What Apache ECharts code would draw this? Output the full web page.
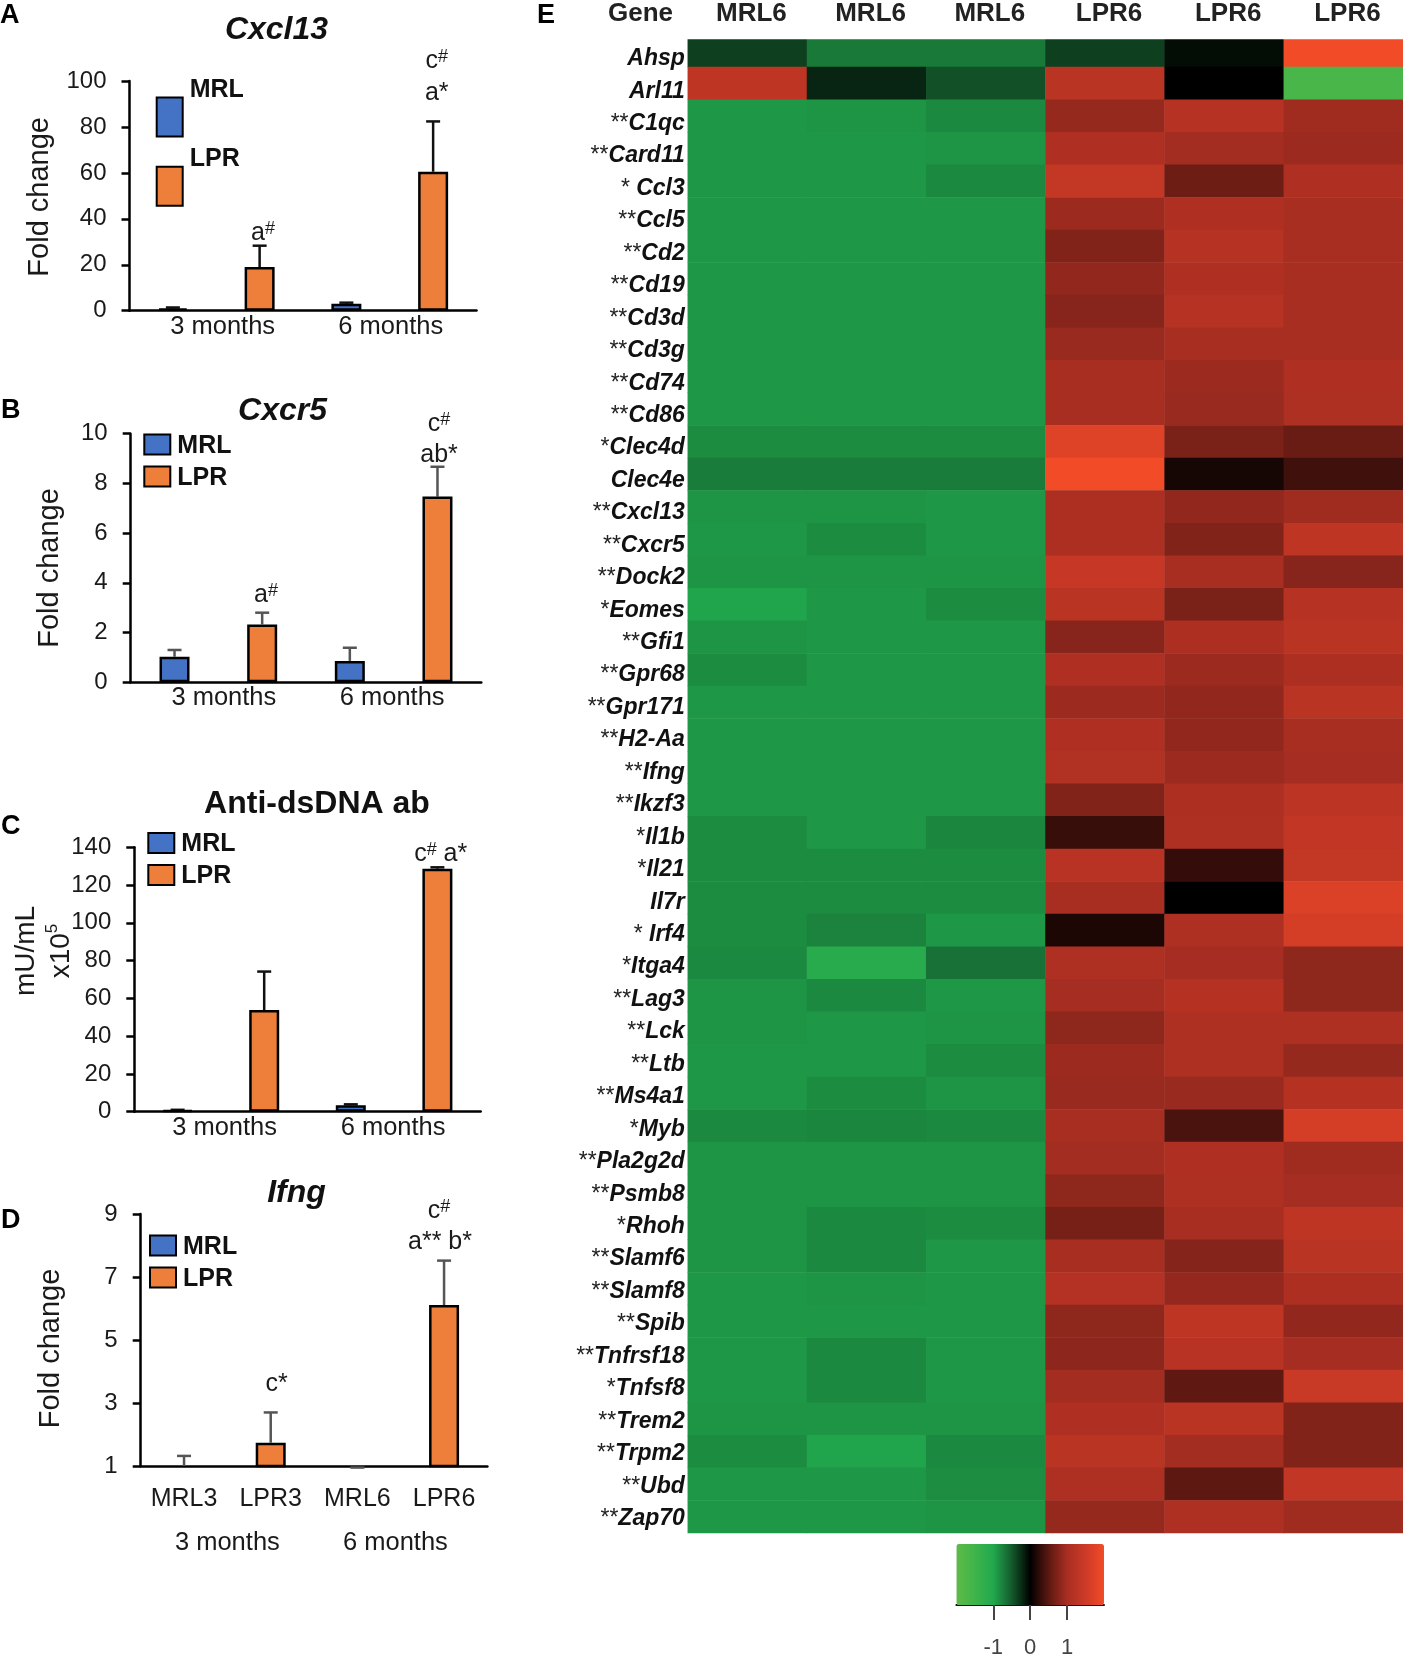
<!DOCTYPE html>
<html>
<head>
<meta charset="utf-8">
<title>Fold change and gene heatmap</title>
<script src="https://cdn.jsdelivr.net/npm/echarts@6/dist/echarts.min.js"></script>
<style>
  html, body { margin: 0; padding: 0; background: #fff; }
  #main { width: 1403px; height: 1662px; }
</style>
</head>
<body>
<div id="main"></div>
<script>
// bar panels, order is MRL3, LPR3, MRL6, LPR6
var barCats = ['MRL3', 'LPR3', 'MRL6', 'LPR6'];
var monthCats = ['3 months', '6 months'];

var cxcl13Mean = [1, 19, 3, 60.5];
var cxcl13Upper = [1.4, 28.3, 3.5, 82.4];
var cxcr5Mean = [1.03, 2.33, 0.86, 7.47];
var cxcr5Upper = [1.3, 2.8, 1.39, 8.67];
var dsdnaMean = [0.7, 53.8, 3.4, 128.7];
var dsdnaUpper = [1, 74.2, 3.9, 129.4];
var ifngMean = [1, 1.74, 0.95, 6.11];
var ifngUpper = [1.32, 2.7, 0.95, 7.52];

var ifngTicks = [1, 3, 5, 7, 9];

// heatmap, one array per sample column
var sampleCols = ['MRL6', 'MRL6', 'MRL6', 'LPR6', 'LPR6', 'LPR6'];
var genes = ['Ahsp', 'Arl11', '**C1qc', '**Card11', '* Ccl3', '**Ccl5', '**Cd2', '**Cd19', '**Cd3d', '**Cd3g',
  '**Cd74', '**Cd86', '*Clec4d', 'Clec4e', '**Cxcl13', '**Cxcr5', '**Dock2', '*Eomes', '**Gfi1', '**Gpr68',
  '**Gpr171', '**H2-Aa', '**Ifng', '**Ikzf3', '*Il1b', '*Il21', 'Il7r', '* Irf4', '*Itga4', '**Lag3',
  '**Lck', '**Ltb', '**Ms4a1', '*Myb', '**Pla2g2d', '**Psmb8', '*Rhoh', '**Slamf6', '**Slamf8', '**Spib',
  '**Tnfrsf18', '*Tnfsf8', '**Trem2', '**Trpm2', '**Ubd', '**Zap70'];
var mrlA = [-0.35, 1.3, -0.9, -0.9, -0.9, -0.9, -0.9, -0.9, -0.9, -0.9,
  -0.9, -0.9, -0.82, -0.72, -0.88, -0.9, -0.88, -0.98, -0.88, -0.82,
  -0.9, -0.9, -0.9, -0.9, -0.82, -0.82, -0.82, -0.82, -0.8, -0.88,
  -0.88, -0.9, -0.9, -0.8, -0.88, -0.88, -0.88, -0.88, -0.9, -0.9,
  -0.9, -0.9, -0.88, -0.82, -0.9, -0.9];
var mrlB = [-0.7, -0.2, -0.88, -0.9, -0.9, -0.9, -0.9, -0.9, -0.9, -0.9,
  -0.9, -0.9, -0.82, -0.72, -0.88, -0.82, -0.88, -0.9, -0.9, -0.9,
  -0.9, -0.9, -0.9, -0.9, -0.9, -0.82, -0.82, -0.76, -1.12, -0.8,
  -0.9, -0.9, -0.82, -0.78, -0.88, -0.88, -0.8, -0.8, -0.88, -0.9,
  -0.8, -0.8, -0.88, -0.98, -0.9, -0.9];
var mrlC = [-0.7, -0.45, -0.8, -0.88, -0.8, -0.9, -0.9, -0.9, -0.9, -0.9,
  -0.9, -0.9, -0.82, -0.72, -0.9, -0.9, -0.88, -0.82, -0.9, -0.9,
  -0.9, -0.9, -0.9, -0.9, -0.78, -0.82, -0.82, -0.9, -0.65, -0.9,
  -0.88, -0.82, -0.88, -0.8, -0.88, -0.88, -0.82, -0.9, -0.9, -0.9,
  -0.9, -0.9, -0.88, -0.8, -0.83, -0.88];
var lprA = [-0.35, 1.25, 0.88, 1.1, 1.38, 0.92, 0.75, 0.85, 0.78, 0.9,
  1, 1, 1.75, 2, 1.05, 1.05, 1.42, 1.25, 0.78, 1.1,
  0.92, 1.1, 1.12, 0.75, 0.3, 1.22, 1.02, 0.15, 1.08, 0.98,
  0.83, 0.92, 0.9, 1, 0.97, 0.83, 0.68, 1, 1.15, 0.83,
  0.82, 0.97, 1.1, 1.25, 1.08, 0.88];
var lprB = [-0.07, 0, 1.2, 0.97, 0.62, 1.1, 1.2, 1.1, 1.2, 1,
  0.92, 0.9, 0.7, 0.12, 0.85, 0.75, 1, 0.7, 1.05, 0.92,
  0.85, 0.85, 0.92, 1.05, 1.08, 0.28, 0, 1.08, 0.98, 1.18,
  1.07, 1.07, 0.9, 0.4, 1.1, 1.08, 1.02, 0.77, 0.87, 1.3,
  1.22, 0.52, 1.25, 0.97, 0.5, 1.08];
var lprC = [2, -1.65, 0.95, 0.92, 1.1, 1, 1, 1, 1, 1,
  1.1, 1.08, 0.58, 0.35, 0.95, 1.3, 0.78, 1.2, 1.25, 1.05,
  1.25, 1.02, 0.98, 1.28, 1.35, 1.38, 1.7, 1.6, 0.83, 0.83,
  1.08, 0.88, 1.18, 1.6, 0.95, 0.98, 1.3, 1.25, 1.05, 0.85,
  0.98, 1.45, 0.75, 0.75, 1.35, 0.95];
var heatColumns = [mrlA, mrlB, mrlC, lprA, lprB, lprC];
var scaleColors = ['#5dbb47', '#3fb44a', '#21a84d', '#145a2c', '#000000', '#5c1811', '#a82e22', '#cc3a26', '#f24b27'];
var scaleTicks = [-1, 0, 1];

var FONT = '"Liberation Sans", Arial, sans-serif';
var INK = '#1a1a1a';
var BLUE = '#4472c4';
var ORANGE = '#ed7f3a';

var chart = echarts.init(document.getElementById('main'), null, { renderer: 'canvas' });

var grids = [];
var xAxes = [];
var yAxes = [];
var series = [];
var titles = [];
var legends = [];

function errorRender(color) {
  return function (params, api) {
    var low = api.coord([api.value(0), api.value(1)]);
    var high = api.coord([api.value(0), api.value(2)]);
    var style = { stroke: color, lineWidth: 2.5 };
    return {
      type: 'group',
      children: [
        { type: 'line', shape: { x1: low[0], y1: low[1], x2: high[0], y2: high[1] }, style: style },
        { type: 'line', shape: { x1: high[0] - 7, y1: high[1], x2: high[0] + 7, y2: high[1] }, style: style }
      ]
    };
  };
}

// month labels do not sit exactly on the band centres, nudge is in pixels
function monthItems(nudge) {
  return monthCats.map(function (m, i) {
    var n = nudge[i];
    return { value: m, textStyle: { padding: n > 0 ? [0, 0, 0, n * 2] : [0, -n * 2, 0, 0] } };
  });
}

function addPanel(p) {
  var i = grids.length;
  grids.push({ left: p.left, top: p.top, width: p.width, height: p.height });
  var line = { onZero: false, lineStyle: { color: '#000', width: 2.5 } };
  xAxes.push({
    gridIndex: i, type: 'category', position: 'bottom', data: barCats,
    axisLine: line, axisTick: { show: false },
    axisLabel: { show: !!p.showCats, margin: 21, fontFamily: FONT, fontSize: 25, color: INK, interval: 0 }
  });
  xAxes.push({
    gridIndex: i, type: 'category', position: 'bottom', data: monthItems(p.monthNudge),
    axisLine: { show: false }, axisTick: { show: false },
    axisLabel: { margin: p.monthMargin, fontFamily: FONT, fontSize: 25.5, color: INK, interval: 0 }
  });
  var y = {
    gridIndex: i, type: 'value', min: p.min, max: p.max,
    name: p.yName, nameLocation: 'middle', nameGap: p.nameGap,
    nameTextStyle: { fontFamily: FONT, fontSize: 29, color: INK, padding: [0, p.nameShift || 0, 0, 0] },
    splitLine: { show: false },
    axisLine: { show: true, lineStyle: { color: '#000', width: 2.5 } },
    axisTick: { show: true, length: 8, lineStyle: { color: '#000', width: 2.5 } },
    axisLabel: { margin: 23, fontFamily: FONT, fontSize: 24, color: INK, padding: [5, 0, 0, 0] }
  };
  if (p.interval) y.interval = p.interval;
  if (p.ticks) {
    y.axisTick.customValues = p.ticks;
    y.axisLabel.customValues = p.ticks;
  }
  yAxes.push(y);

  var xIdx = i * 2;
  var barStyle = function (c) { return { color: c, borderColor: '#000', borderWidth: 2.5 }; };
  series.push({
    name: 'MRL', type: 'bar', xAxisIndex: xIdx, yAxisIndex: i, barWidth: 30, barGap: '-100%',
    itemStyle: barStyle(BLUE),
    data: p.mean.map(function (v, k) { return k % 2 === 0 ? v : null; })
  });
  series.push({
    name: 'LPR', type: 'bar', xAxisIndex: xIdx, yAxisIndex: i, barWidth: 30, barGap: '-100%',
    itemStyle: barStyle(ORANGE),
    data: p.mean.map(function (v, k) { return k % 2 === 1 ? v : null; })
  });
  series.push({
    type: 'custom', xAxisIndex: xIdx, yAxisIndex: i, z: 1, clip: false,
    renderItem: errorRender(p.errColor),
    encode: { x: 0, y: [1, 2] },
    data: p.mean.map(function (v, k) { return [k, v, p.upper[k]]; })
  });

  titles.push({
    text: p.title, left: p.titleX, top: p.titleY, textAlign: 'center', textVerticalAlign: 'middle',
    textStyle: { fontFamily: FONT, fontSize: 32, fontWeight: 'bold', fontStyle: p.plainTitle ? 'normal' : 'italic', color: '#111' }
  });
  legends.push(p.legend);
}

function panelLegend(left, top) {
  return {
    left: left, top: top, orient: 'vertical', padding: 0, itemGap: 7, itemWidth: 26, itemHeight: 20,
    icon: 'rect', data: ['MRL', 'LPR'], selectedMode: false, formatter: '{t|{name}}',
    textStyle: {
      rich: { t: { fontFamily: FONT, fontSize: 25, fontWeight: 'bold', color: '#111', padding: [3, 0, 0, 2] } }
    }
  };
}

addPanel({
  left: 129.5, top: 81, width: 347, height: 229.7, min: 0, max: 100, interval: 20,
  mean: cxcl13Mean, upper: cxcl13Upper, errColor: '#111', monthMargin: 3, monthNudge: [6.4, 1],
  yName: 'Fold change', nameGap: 75, nameShift: 2,
  title: 'Cxcl13', titleX: 271.5, titleY: 25,
  legend: {
    left: 155.7, top: 77.4, orient: 'vertical', padding: 0, itemGap: 9.4, itemWidth: 26, itemHeight: 39,
    icon: 'rect', data: ['MRL', 'LPR'], selectedMode: false, formatter: '{t|{name}}',
    textStyle: {
      rich: { t: { fontFamily: FONT, fontSize: 25, fontWeight: 'bold', color: '#111', padding: [0, 0, 54, 2] } }
    }
  }
});
addPanel({
  left: 130.7, top: 433.7, width: 350.6, height: 248.6, min: 0, max: 10, interval: 2,
  mean: cxcr5Mean, upper: cxcr5Upper, errColor: '#555', monthMargin: 3, monthNudge: [5.5, -1.5],
  yName: 'Fold change', nameGap: 66, nameShift: 20,
  title: 'Cxcr5', titleX: 277.5, titleY: 406.5,
  legend: panelLegend(143.3, 433.5)
});
addPanel({
  left: 134.3, top: 847.3, width: 346.4, height: 264.4, min: 0, max: 140, interval: 20,
  mean: dsdnaMean, upper: dsdnaUpper, errColor: '#111', monthMargin: 3, monthNudge: [3.7, -1],
  yName: '', nameGap: 70,
  title: 'Anti-dsDNA ab', titleX: 312, titleY: 799.5, plainTitle: true,
  legend: panelLegend(147.3, 832)
});
addPanel({
  left: 140.7, top: 1214, width: 346.7, height: 252, min: 1, max: 9, ticks: ifngTicks,
  mean: ifngMean, upper: ifngUpper, errColor: '#555', monthMargin: 64, monthNudge: [0, -5.3], showCats: true,
  yName: 'Fold change', nameGap: 75, nameShift: 17,
  title: 'Ifng', titleX: 291.5, titleY: 1188,
  legend: panelLegend(149, 1234.5)
});

// heatmap grid
var heatGrid = grids.length;
grids.push({ left: 687.8, top: 34.5, width: 715.2, height: 1498.5 });
var heatX = xAxes.length;
xAxes.push({
  gridIndex: heatGrid, type: 'category', position: 'top', data: sampleCols,
  axisLine: { show: false }, axisTick: { show: false }, splitLine: { show: false },
  axisLabel: { interval: 0, margin: 8, fontFamily: FONT, fontSize: 26, fontWeight: 'bold', color: '#222', padding: [0, 0, 0, 8] }
});
var heatY = yAxes.length;
yAxes.push({
  gridIndex: heatGrid, type: 'category', inverse: true, data: genes, show: false
});
var heatData = [];
heatColumns.forEach(function (col, c) {
  col.forEach(function (v, r) { heatData.push([c, r, v]); });
});
var heatSeries = series.length;
series.push({
  type: 'heatmap', xAxisIndex: heatX, yAxisIndex: heatY, progressive: 0, data: heatData
});

// gene labels, pitch of the text differs a little from the cells
var labelGrid = grids.length;
grids.push({ left: 687.8, top: 42.5, width: 715.2, height: 1492.4 });
xAxes.push({ gridIndex: labelGrid, type: 'value', show: false });
yAxes.push({
  gridIndex: labelGrid, type: 'category', inverse: true, data: genes,
  axisLine: { show: false }, axisTick: { show: false },
  axisLabel: {
    interval: 0, margin: 3,
    formatter: function (name) {
      var m = name.match(/^([* ]*)(.*)$/);
      return (m[1] ? '{s|' + m[1] + '}' : '') + '{g|' + m[2] + '}';
    },
    rich: {
      s: { fontFamily: FONT, fontSize: 23, color: '#222' },
      g: { fontFamily: FONT, fontSize: 23, fontWeight: 'bold', fontStyle: 'italic', color: '#111' }
    }
  }
});

// colour scale axis below the heatmap
var scaleGrid = grids.length;
grids.push({ left: 956.4, top: 1544, width: 147.6, height: 61 });
xAxes.push({
  gridIndex: scaleGrid, type: 'value', min: -2, max: 2, position: 'bottom',
  splitLine: { show: false },
  axisLine: { onZero: false, lineStyle: { color: '#111', width: 2 } },
  axisTick: { customValues: scaleTicks, length: 15, lineStyle: { color: '#444', width: 2 } },
  axisLabel: { customValues: scaleTicks, margin: 32, fontFamily: FONT, fontSize: 22, color: '#444' }
});
yAxes.push({ gridIndex: scaleGrid, type: 'value', show: false });

function note(text, x, y) {
  var parts = text.split('#');
  var rich = parts.map(function (t, i) {
    return (t ? '{b|' + t + '}' : '') + (i < parts.length - 1 ? '{u|#}' : '');
  }).join('');
  return {
    type: 'text', x: x, y: y, z: 50,
    style: {
      text: rich, align: 'center', verticalAlign: 'middle',
      rich: {
        b: { fontFamily: FONT, fontSize: 25, fill: INK },
        u: { fontFamily: FONT, fontSize: 18, fill: INK, verticalAlign: 'top' }
      }
    }
  };
}

function letter(text, x, y) {
  return {
    type: 'text', x: x, y: y, z: 50,
    style: { text: text, fontFamily: FONT, fontSize: 27, fontWeight: 'bold', fill: '#000', verticalAlign: 'middle' }
  };
}

var graphics = [
  // hides the part of the first row that the figure cut off
  { type: 'rect', shape: { x: 680, y: 30, width: 723, height: 9.3 }, style: { fill: '#fff' }, z: 40 },
  letter('A', 0, 16), letter('B', 1, 410.5), letter('C', 1, 827), letter('D', 1, 1220.5), letter('E', 537, 15.7),
  {
    type: 'text', x: 640.5, y: 14, z: 50,
    style: { text: 'Gene', fontFamily: FONT, fontSize: 26, fontWeight: 'bold', fill: '#222', align: 'center', verticalAlign: 'middle' }
  },
  {
    type: 'text', x: 44, y: 951, rotation: Math.PI / 2, z: 50,
    style: {
      text: '{n|mU/mL}\n{n|x10}{u|5}', align: 'center', verticalAlign: 'middle',
      rich: {
        n: { fontFamily: FONT, fontSize: 28, fill: INK, lineHeight: 35 },
        u: { fontFamily: FONT, fontSize: 17, fill: INK, verticalAlign: 'top', lineHeight: 35 }
      }
    }
  },
  note('c#', 436.7, 61), note('a*', 436.7, 92.7), note('a#', 263, 232.7),
  note('c#', 439, 424), note('ab*', 439, 455), note('a#', 266, 595),
  note('c# a*', 440.7, 854),
  note('c#', 439, 1211), note('a** b*', 440, 1242), note('c*', 276.7, 1383.7)
];

var option = {
  animation: false,
  backgroundColor: '#fff',
  title: titles,
  legend: legends,
  grid: grids,
  xAxis: xAxes,
  yAxis: yAxes,
  visualMap: {
    type: 'continuous', seriesIndex: heatSeries, min: -2, max: 2,
    left: 956.4, top: 1544, itemWidth: 61, itemHeight: 147.6, orient: 'horizontal',
    padding: 0, calculable: false, realtime: false, text: null, showLabel: false, hoverLink: false,
    inRange: { color: scaleColors }, textStyle: { fontSize: 1, color: 'transparent' },
    formatter: function () { return ''; }
  },
  graphic: graphics,
  series: series
};

chart.setOption(option);
</script>
</body>
</html>
